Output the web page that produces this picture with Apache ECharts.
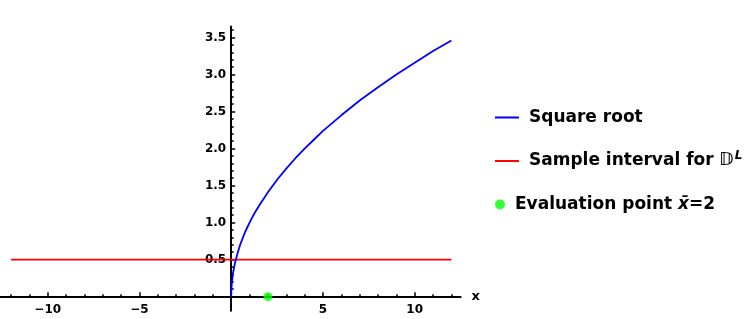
<!DOCTYPE html>
<html>
<head>
<meta charset="utf-8">
<script src="https://cdn.jsdelivr.net/npm/echarts@6/dist/echarts.min.js"></script>
<style>
html,body{margin:0;padding:0;background:#fff;}
#c{width:750px;height:319px;}
</style>
</head>
<body>
<div id="c"></div>
<script>
// ---- data ----
const sqrtX = [0, 0.005, 0.02, 0.05, 0.1, 0.2, 0.35, 0.5, 0.75, 1, 1.25, 1.5, 2, 2.5, 3, 3.5, 4, 4.5, 5, 6, 7, 8, 9, 10, 11, 12];
const sqrtY = [0, 0.07, 0.14, 0.22, 0.32, 0.45, 0.59, 0.71, 0.87, 1.0, 1.12, 1.22, 1.41, 1.58, 1.73, 1.87, 2.0, 2.12, 2.24, 2.45, 2.65, 2.83, 3.0, 3.16, 3.32, 3.46];
const intervalX = [-12, 12];
const intervalY = [0.5, 0.5];
const evalX = [2];
const evalY = [0];
const xMajorTicks = [-10, -5, 5, 10];
const xMinorTicks = [-12, -11, -9, -8, -7, -6, -4, -3, -2, -1, 1, 2, 3, 4, 6, 7, 8, 9, 11, 12];
const yMajorTicks = [0.5, 1.0, 1.5, 2.0, 2.5, 3.0, 3.5];
const yMinorTicks = [0.1,0.2,0.3,0.4,0.6,0.7,0.8,0.9,1.1,1.2,1.3,1.4,1.6,1.7,1.8,1.9,2.1,2.2,2.3,2.4,2.6,2.7,2.8,2.9,3.1,3.2,3.3,3.4,3.6];
const seriesNames = ['Square root', 'Sample interval for 𝔻L', 'Evaluation point x̄=2'];

const zip = (a, b) => a.map((v, i) => [v, b[i]]);
const FONT = 'DejaVu Sans';
const xRange = [-12.6, 12.5];
const yRange = [-0.19, 3.65];
const GRID = {left: 0, top: 26.5, width: 460.6, height: 284.2};
// place axes through the origin (as offsets from the grid edges)
const yAxisOffset = -(0 - xRange[0]) / (xRange[1] - xRange[0]) * GRID.width;
const xAxisOffset = -(0 - yRange[0]) / (yRange[1] - yRange[0]) * GRID.height;

const chart = echarts.init(document.getElementById('c'), null, {renderer: 'canvas'});
chart.setOption({
  animation: false,
  backgroundColor: '#fff',
  grid: Object.assign({containLabel: false, outerBoundsMode: 'none'}, GRID),
  xAxis: [{
    type: 'value', min: xRange[0], max: xRange[1], position: 'bottom', offset: xAxisOffset,
    name: 'x', nameLocation: 'end', nameGap: 11,
    nameTextStyle: {fontFamily: FONT, fontWeight: 'bold', fontSize: 13, color: '#000', verticalAlign: 'middle', padding: [2,0,0,0]},
    axisLine: {onZero: false, lineStyle: {color: '#000', width: 2}},
    axisTick: {show: true, inside: true, length: 4.5, lineStyle: {color: '#000', width: 1.5}, customValues: xMajorTicks},
    axisLabel: {customValues: xMajorTicks, fontFamily: FONT, fontWeight: 'bold', fontSize: 12, color: '#000', margin: 7,
      formatter: v => String(v).replace('-', '\u2212')},
    splitLine: {show: false}
  }, {
    type: 'value', min: xRange[0], max: xRange[1], position: 'bottom', offset: xAxisOffset,
    axisLine: {show: false, onZero: false},
    axisTick: {show: true, inside: true, length: 2.5, lineStyle: {color: '#000', width: 1.5}, customValues: xMinorTicks},
    axisLabel: {show: false},
    splitLine: {show: false}
  }],
  yAxis: [{
    type: 'value', min: yRange[0], max: yRange[1], position: 'left', offset: yAxisOffset,
    axisLine: {onZero: false, lineStyle: {color: '#000', width: 2}},
    axisTick: {show: true, inside: true, length: 4, lineStyle: {color: '#000', width: 1.5}, customValues: yMajorTicks},
    axisLabel: {customValues: yMajorTicks, fontFamily: FONT, fontWeight: 'bold', fontSize: 12, color: '#000', margin: 5,
      formatter: v => v.toFixed(1)},
    splitLine: {show: false}
  }, {
    type: 'value', min: yRange[0], max: yRange[1], position: 'left', offset: yAxisOffset,
    axisLine: {show: false, onZero: false},
    axisTick: {show: true, inside: true, length: 2.5, lineStyle: {color: '#000', width: 1.5}, customValues: yMinorTicks},
    axisLabel: {show: false},
    splitLine: {show: false}
  }],
  legend: [{
    orient: 'vertical', left: 495, top: 109, padding: 0, itemWidth: 24, itemHeight: 2, itemGap: 24,
    data: [{name: seriesNames[0], icon: 'rect'}, {name: seriesNames[1], icon: 'rect'}],
    formatter: function (name) {
      if (name === seriesNames[1]) return '{b|Sample interval for }{ds|𝔻}{sup|L}';
      return '{b|' + name + '}';
    },
    textStyle: {
      padding: [0, 0, 0, 5],
      rich: {
        b: {fontFamily: FONT, fontWeight: 'bold', fontSize: 17, color: '#000', lineHeight: 22},
        ds: {fontFamily: FONT, fontWeight: 'bold', fontSize: 17, color: '#000', lineHeight: 22},
        sup: {fontFamily: FONT, fontWeight: 'bold', fontStyle: 'italic', fontSize: 12, color: '#000', verticalAlign: 'top', lineHeight: 22, padding: [0,0,6,1]}
      }
    }
  }, {
    orient: 'vertical', left: 495, top: 196, padding: 0, itemWidth: 10, itemHeight: 10,
    data: [{name: seriesNames[2], icon: 'circle'}],
    formatter: function () {
      return '{b|Evaluation point }{it|x\u0304}{b|=2}';
    },
    textStyle: {
      padding: [0, 0, 0, 5],
      rich: {
        b: {fontFamily: FONT, fontWeight: 'bold', fontSize: 17, color: '#000', lineHeight: 22},
        it: {fontFamily: FONT, fontWeight: 'bold', fontStyle: 'italic', fontSize: 17, color: '#000', lineHeight: 22}
      }
    }
  }],
  series: [{
    name: seriesNames[0], type: 'line', xAxisIndex: 0, yAxisIndex: 0,
    data: zip(sqrtX, sqrtY), symbol: 'none', smooth: false,
    lineStyle: {color: '#0000ff', width: 1.8}, itemStyle: {color: '#0000ff'}, z: 3
  }, {
    name: seriesNames[1], type: 'line', xAxisIndex: 0, yAxisIndex: 0,
    data: zip(intervalX, intervalY), symbol: 'none',
    lineStyle: {color: '#ff0000', width: 1.6}, itemStyle: {color: '#ff0000'}, z: 2
  }, {
    name: seriesNames[2], type: 'scatter', xAxisIndex: 0, yAxisIndex: 0,
    data: zip(evalX, evalY), symbol: 'circle', symbolSize: 9,
    itemStyle: {color: '#00ff00'}, z: 4
  }]
});
</script>
</body>
</html>
